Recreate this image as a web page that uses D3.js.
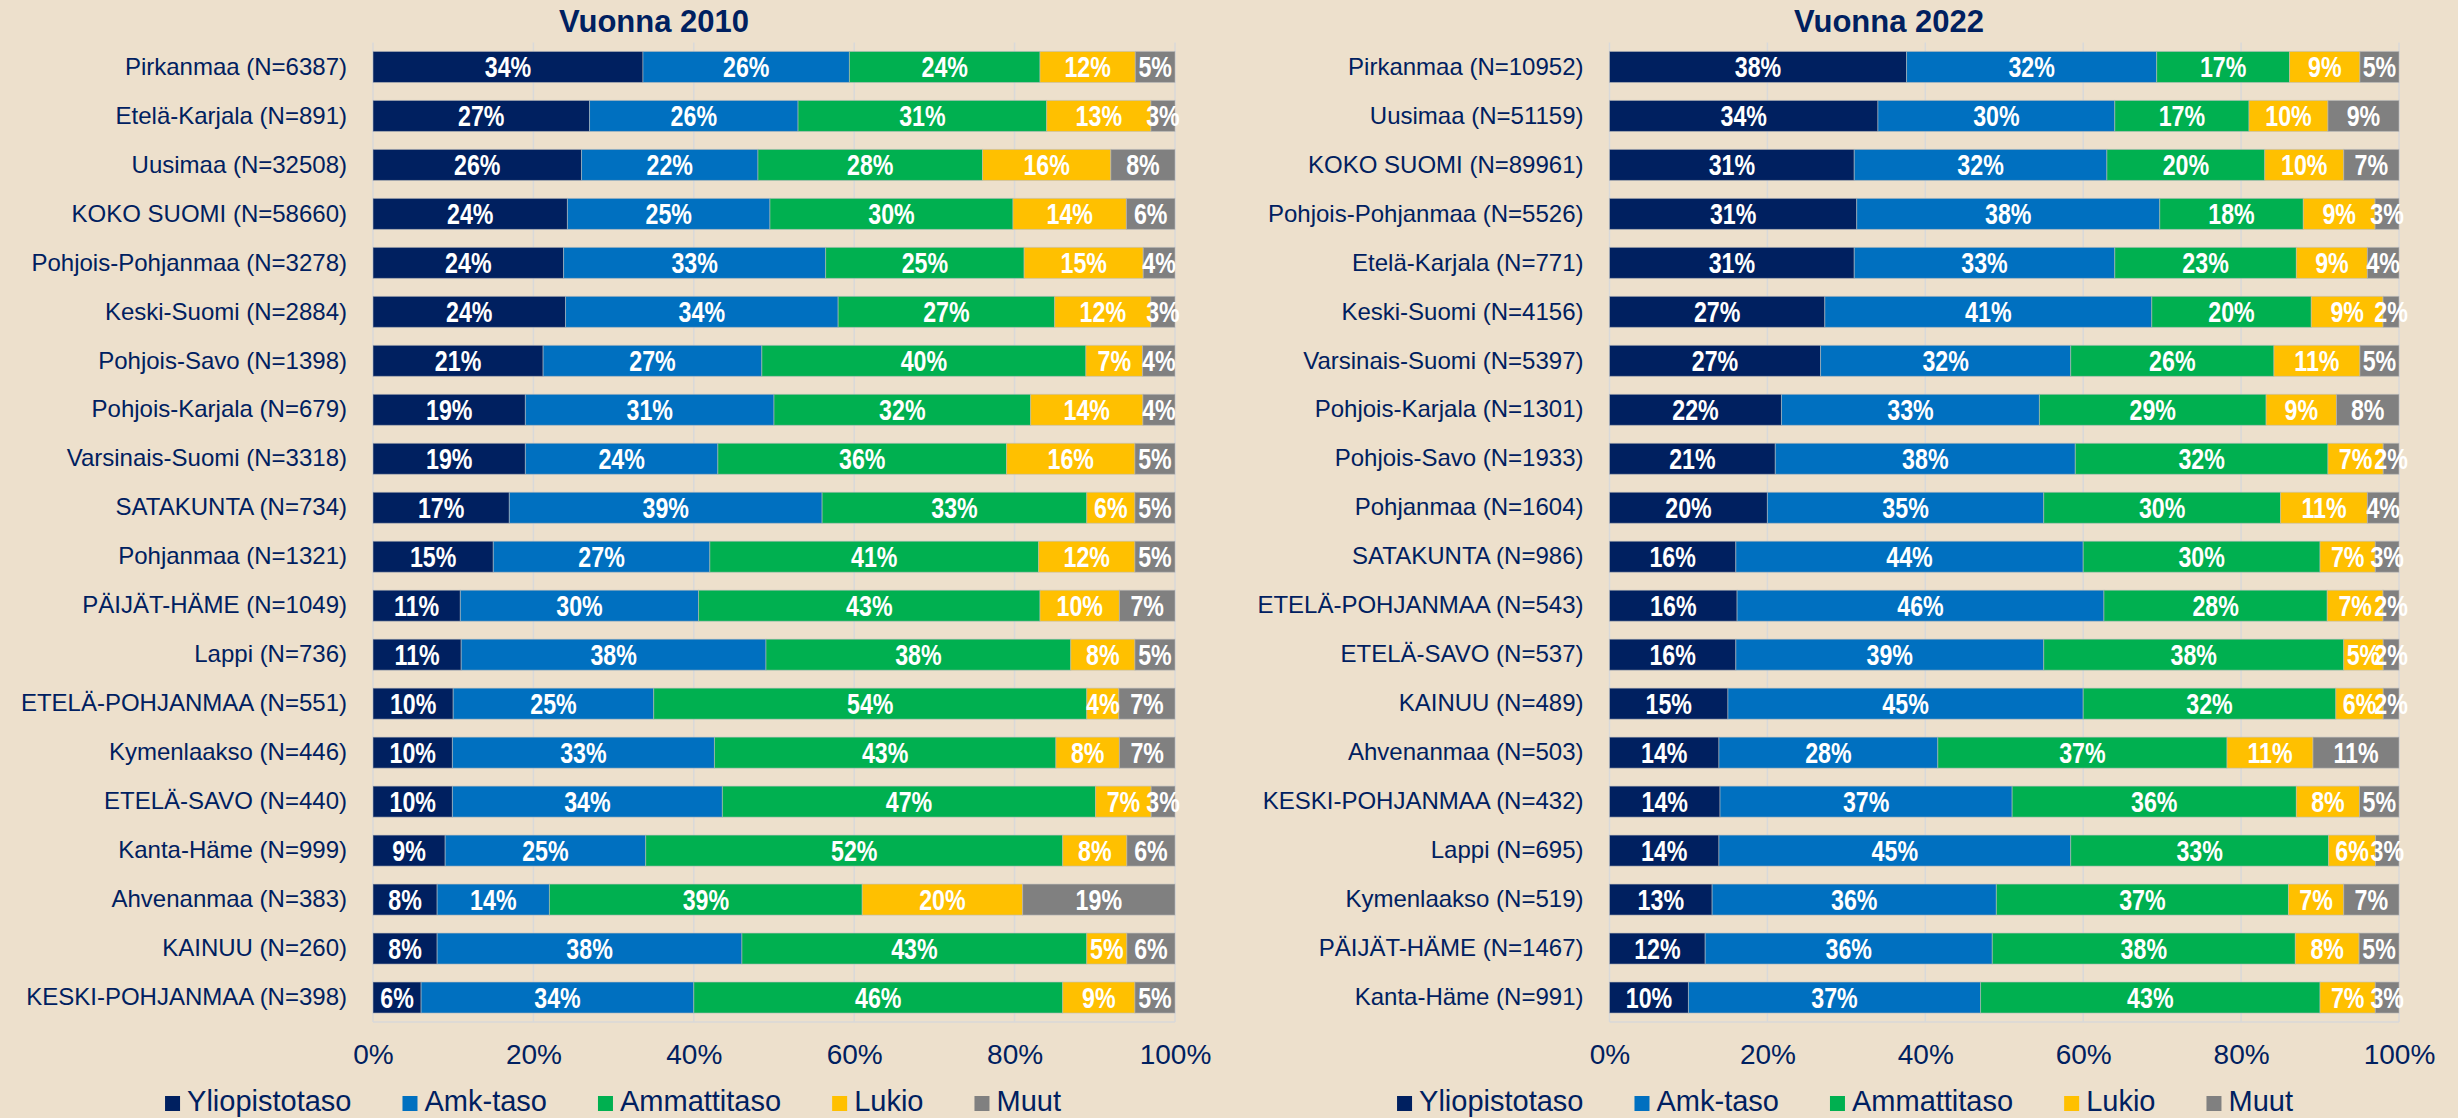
<!DOCTYPE html>
<html lang="fi">
<head>
<meta charset="utf-8">
<script src="https://cdn.jsdelivr.net/npm/d3@7"></script>
<style>
  html, body { margin: 0; padding: 0; background: #EDE0CC; }
  svg { display: block; }
</style>
</head>
<body>
<svg id="chart" width="2458" height="1118"></svg>
<script>
// Koulutustaso alueittain, osuudet (%)
const series = ["Yliopistotaso", "Amk-taso", "Ammattitaso", "Lukio", "Muut"];
const colors = ["#002060", "#0070C0", "#00B050", "#FFC000", "#808080"];
const ticks = ["0%", "20%", "40%", "60%", "80%", "100%"];

const regions2010 = [
  "Pirkanmaa (N=6387)", "Etelä-Karjala (N=891)", "Uusimaa (N=32508)", "KOKO SUOMI (N=58660)",
  "Pohjois-Pohjanmaa (N=3278)", "Keski-Suomi (N=2884)", "Pohjois-Savo (N=1398)",
  "Pohjois-Karjala (N=679)", "Varsinais-Suomi (N=3318)", "SATAKUNTA (N=734)",
  "Pohjanmaa (N=1321)", "PÄIJÄT-HÄME (N=1049)", "Lappi (N=736)", "ETELÄ-POHJANMAA (N=551)",
  "Kymenlaakso (N=446)", "ETELÄ-SAVO (N=440)", "Kanta-Häme (N=999)", "Ahvenanmaa (N=383)",
  "KAINUU (N=260)", "KESKI-POHJANMAA (N=398)"
];
const yliopisto2010 = [34, 27, 26, 24, 24, 24, 21, 19, 19, 17, 15, 11, 11, 10, 10, 10, 9, 8, 8, 6];
const amk2010       = [26, 26, 22, 25, 33, 34, 27, 31, 24, 39, 27, 30, 38, 25, 33, 34, 25, 14, 38, 34];
const ammatti2010   = [24, 31, 28, 30, 25, 27, 40, 32, 36, 33, 41, 43, 38, 54, 43, 47, 52, 39, 43, 46];
const lukio2010     = [12, 13, 16, 14, 15, 12, 7, 14, 16, 6, 12, 10, 8, 4, 8, 7, 8, 20, 5, 9];
const muut2010      = [5, 3, 8, 6, 4, 3, 4, 4, 5, 5, 5, 7, 5, 7, 7, 3, 6, 19, 6, 5];

const regions2022 = [
  "Pirkanmaa (N=10952)", "Uusimaa (N=51159)", "KOKO SUOMI (N=89961)", "Pohjois-Pohjanmaa (N=5526)",
  "Etelä-Karjala (N=771)", "Keski-Suomi (N=4156)", "Varsinais-Suomi (N=5397)",
  "Pohjois-Karjala (N=1301)", "Pohjois-Savo (N=1933)", "Pohjanmaa (N=1604)",
  "SATAKUNTA (N=986)", "ETELÄ-POHJANMAA (N=543)", "ETELÄ-SAVO (N=537)", "KAINUU (N=489)",
  "Ahvenanmaa (N=503)", "KESKI-POHJANMAA (N=432)", "Lappi (N=695)", "Kymenlaakso (N=519)",
  "PÄIJÄT-HÄME (N=1467)", "Kanta-Häme (N=991)"
];
const yliopisto2022 = [38, 34, 31, 31, 31, 27, 27, 22, 21, 20, 16, 16, 16, 15, 14, 14, 14, 13, 12, 10];
const amk2022       = [32, 30, 32, 38, 33, 41, 32, 33, 38, 35, 44, 46, 39, 45, 28, 37, 45, 36, 36, 37];
const ammatti2022   = [17, 17, 20, 18, 23, 20, 26, 29, 32, 30, 30, 28, 38, 32, 37, 36, 33, 37, 38, 43];
const lukio2022     = [9, 10, 10, 9, 9, 9, 11, 9, 7, 11, 7, 7, 5, 6, 11, 8, 6, 7, 8, 7];
const muut2022      = [5, 9, 7, 3, 4, 2, 5, 8, 2, 4, 3, 2, 2, 2, 11, 5, 3, 7, 5, 3];

const navy = "#002060";
const svg = d3.select("#chart");

function rows(names, cols) {
  return names.map((name, i) => {
    const r = { name };
    series.forEach((s, k) => { r[s] = cols[k][i]; });
    return r;
  });
}

const panels = [
  { title: "Vuonna 2010", titleX: 654, x0: 373, x1: 1175, legendCenter: 613,
    data: rows(regions2010, [yliopisto2010, amk2010, ammatti2010, lukio2010, muut2010]) },
  { title: "Vuonna 2022", titleX: 1889, x0: 1609.5, x1: 2399, legendCenter: 1845,
    data: rows(regions2022, [yliopisto2022, amk2022, ammatti2022, lukio2022, muut2022]) }
];

const plotTop = 42.5, plotBottom = 1022;
const color = d3.scaleOrdinal(series, colors);

panels.forEach(p => {
  const g = svg.append("g");
  const x = d3.scaleLinear([0, 1], [p.x0, p.x1]);
  const y = d3.scaleBand(p.data.map(d => d.name), [plotTop, plotBottom])
    .paddingInner(0.367).paddingOuter(0.183);

  // vertical gridlines
  g.append("g").selectAll("line").data(x.ticks(5)).join("line")
    .attr("x1", d => x(d)).attr("x2", d => x(d))
    .attr("y1", plotTop).attr("y2", plotBottom)
    .attr("stroke", "#D9D9D9").attr("stroke-width", 1.5);
  g.append("line")
    .attr("x1", x(0)).attr("x2", x(1)).attr("y1", plotBottom).attr("y2", plotBottom)
    .attr("stroke", "#D9D9D9").attr("stroke-width", 1.5);

  // 100 % stacked bars
  const stack = d3.stack().keys(series).offset(d3.stackOffsetExpand);
  const layers = stack(p.data);

  const layerG = g.append("g").selectAll("g").data(layers).join("g")
    .attr("fill", d => color(d.key));
  layerG.selectAll("rect").data(d => d).join("rect")
    .attr("x", d => x(d[0]))
    .attr("y", d => y(d.data.name))
    .attr("width", d => x(d[1]) - x(d[0]))
    .attr("height", y.bandwidth())
    .attr("stroke", "rgba(190,190,190,0.55)")
    .attr("stroke-width", 1);

  // value labels in a condensed bold face
  const lab = g.append("g").attr("fill", "#FFFFFF")
    .attr("font-family", "'Liberation Sans',Arial,sans-serif")
    .attr("font-weight", "bold").attr("font-size", 29).attr("text-anchor", "middle");
  layers.forEach(layer => {
    lab.selectAll(null).data(layer).join("text")
      .attr("transform", d =>
        `translate(${x((d[0] + d[1]) / 2)},${y(d.data.name) + y.bandwidth() / 2}) scale(0.8,1)`)
      .attr("dy", "0.36em")
      .text(d => d.data[layer.key] + "%");
  });

  // category axis
  const yAxis = g.append("g").attr("transform", `translate(${p.x0},0)`)
    .call(d3.axisLeft(y).tickSize(0).tickPadding(26));
  yAxis.select(".domain").remove();
  yAxis.selectAll("text")
    .attr("fill", navy).attr("font-size", 24)
    .attr("font-family", "'Liberation Sans',Arial,sans-serif");

  // value axis
  const xAxis = g.append("g").attr("transform", `translate(0,${plotBottom})`)
    .call(d3.axisBottom(x).tickValues(d3.range(0, 1.0001, 0.2)).tickSize(0).tickPadding(0)
      .tickFormat((d, i) => ticks[i]));
  xAxis.select(".domain").remove();
  xAxis.selectAll("text")
    .attr("fill", navy).attr("font-size", 28).attr("dy", null).attr("y", 42)
    .attr("font-family", "'Liberation Sans',Arial,sans-serif");

  // title
  g.append("text")
    .attr("x", p.titleX).attr("y", 32)
    .attr("text-anchor", "middle")
    .attr("fill", navy).attr("font-weight", "bold").attr("font-size", 31)
    .attr("font-family", "'Liberation Sans',Arial,sans-serif")
    .text(p.title);

  // legend
  const leg = g.append("g").attr("font-family", "'Liberation Sans',Arial,sans-serif")
    .attr("font-size", 29).attr("fill", navy);
  const items = leg.selectAll("g").data(series).join("g");
  items.append("rect").attr("width", 15).attr("height", 15).attr("y", 1096)
    .attr("fill", d => color(d));
  items.append("text").attr("x", 22).attr("y", 1111).text(d => d);
  let cx = 0;
  const offsets = [];
  items.each(function () {
    offsets.push(cx);
    const w = this.querySelector("text").getComputedTextLength();
    cx += 22 + w + 51;
  });
  const total = cx - 51;
  const start = p.legendCenter - total / 2;
  items.attr("transform", (d, i) => `translate(${start + offsets[i]},0)`);
});
</script>
</body>
</html>
